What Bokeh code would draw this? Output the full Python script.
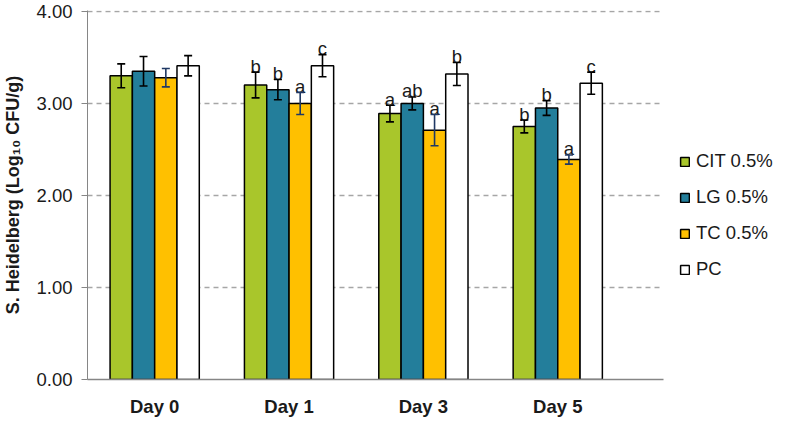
from bokeh.plotting import figure
from bokeh.models import (ColumnDataSource, Range1d, FixedTicker, NumeralTickFormatter,
                          Whisker, TeeHead, Legend, LegendItem)
from bokeh.core.properties import value
from bokeh.embed import file_html
from bokeh.resources import INLINE

# ---- data ----
days = ["Day 0", "Day 1", "Day 3", "Day 5"]
series = ["CIT 0.5%", "LG 0.5%", "TC 0.5%", "PC"]

cit_mean = [3.30, 3.20, 2.89, 2.75]
cit_err = [0.13, 0.14, 0.09, 0.07]
lg_mean = [3.35, 3.15, 3.00, 2.95]
lg_err = [0.16, 0.11, 0.07, 0.08]
tc_mean = [3.28, 3.00, 2.71, 2.39]
tc_err = [0.10, 0.12, 0.17, 0.05]
pc_mean = [3.41, 3.41, 3.32, 3.22]
pc_err = [0.11, 0.12, 0.125, 0.12]

cit_letters = ["", "b", "a", "b"]
lg_letters = ["", "b", "ab", "b"]
tc_letters = ["", "a", "a", "a"]
pc_letters = ["", "c", "b", "c"]

y_ticks = [0, 1, 2, 3, 4]

# ---- styling ----
FONT = "Liberation Sans"
colors = ["#A9C62B", "#237E9B", "#FFC000", "#FFFFFF"]
err_colors = ["#000000", "#000000", "#1F3864", "#000000"]
bar_w = 0.166
offsets = [-1.5 * bar_w, -0.5 * bar_w, 0.5 * bar_w, 1.5 * bar_w]

means = [cit_mean, lg_mean, tc_mean, pc_mean]
errs = [cit_err, lg_err, tc_err, pc_err]
letters = [cit_letters, lg_letters, tc_letters, pc_letters]

centers = [i + 0.5 for i in range(len(days))]

FW = 576
p = figure(frame_width=FW, frame_height=369, output_backend="svg", toolbar_location=None,
           x_range=Range1d(0, 4.287), y_range=Range1d(0, 4.01))
p.min_border_left = 84
p.min_border_top = 10
p.min_border_bottom = 24
p.min_border_right = 769 - 84 - FW
p.outline_line_color = None
p.background_fill_color = "white"
p.border_fill_color = "white"

items = []
for k, name in enumerate(series):
    xs = [c + offsets[k] for c in centers]
    src = ColumnDataSource(dict(
        x=xs, top=means[k],
        upper=[m + e for m, e in zip(means[k], errs[k])],
        lower=[m - e for m, e in zip(means[k], errs[k])],
        letter=letters[k]))
    r = p.vbar(x="x", top="top", width=bar_w, bottom=0, source=src,
               fill_color=colors[k], line_color="black", line_width=1.5)
    items.append(LegendItem(label=name, renderers=[r]))
    wk = Whisker(source=src, base="x", upper="upper", lower="lower",
                 line_color=err_colors[k], line_width=1.6, level="overlay",
                 upper_head=TeeHead(size=8, line_color=err_colors[k], line_width=1.6),
                 lower_head=TeeHead(size=8, line_color=err_colors[k], line_width=1.6))
    p.add_layout(wk)
    p.text(x="x", y="upper", text="letter", source=src, text_align="center",
           text_baseline="alphabetic", y_offset=-6, text_font=value(FONT),
           text_font_size="18.5px", text_color="#1a1a1a")

# axes
p.yaxis.ticker = FixedTicker(ticks=y_ticks)
p.yaxis.formatter = NumeralTickFormatter(format="0.00")
p.yaxis.axis_line_color = "#868686"
p.yaxis.major_tick_line_color = "#868686"
p.yaxis.major_tick_out = 6
p.yaxis.major_tick_in = 0
p.yaxis.minor_tick_line_color = None
p.yaxis.major_label_standoff = 9
p.yaxis.major_label_text_font = FONT
p.yaxis.major_label_text_font_size = "18.5px"
p.yaxis.major_label_text_color = "#1a1a1a"
p.yaxis.axis_label = "S. Heidelberg (Log\u2081\u2080 CFU/g)"
p.yaxis.axis_label_text_font = FONT
p.yaxis.axis_label_text_font_size = "18px"
p.yaxis.axis_label_text_font_style = "bold"
p.yaxis.axis_label_text_color = "#1a1a1a"
p.yaxis.axis_label_standoff = 10

p.xaxis.ticker = FixedTicker(ticks=centers)
p.xaxis.major_label_overrides = {c: d for c, d in zip(centers, days)}
p.xaxis.axis_line_color = "#868686"
p.xaxis.axis_line_width = 1.3
p.xaxis.major_tick_line_color = None
p.xaxis.minor_tick_line_color = None
p.xaxis.major_label_standoff = 10
p.xaxis.major_label_text_font = FONT
p.xaxis.major_label_text_font_size = "18.5px"
p.xaxis.major_label_text_font_style = "bold"
p.xaxis.major_label_text_color = "#1a1a1a"

p.xgrid.grid_line_color = None
p.ygrid.ticker = FixedTicker(ticks=[1, 2, 3, 4])
p.ygrid.grid_line_color = "#A6A6A6"
p.ygrid.grid_line_dash = "5 4"
p.ygrid.grid_line_width = 1.3

legend = Legend(items=items, location=(16, 99), orientation="vertical",
                label_text_font=FONT, label_text_font_size="18.5px",
                label_text_color="#1a1a1a",
                glyph_width=11, glyph_height=11, label_standoff=6,
                spacing=14, padding=0, margin=0,
                border_line_color=None, background_fill_alpha=0)
p.add_layout(legend, "right")

open("out.html", "w").write(file_html(p, INLINE))
